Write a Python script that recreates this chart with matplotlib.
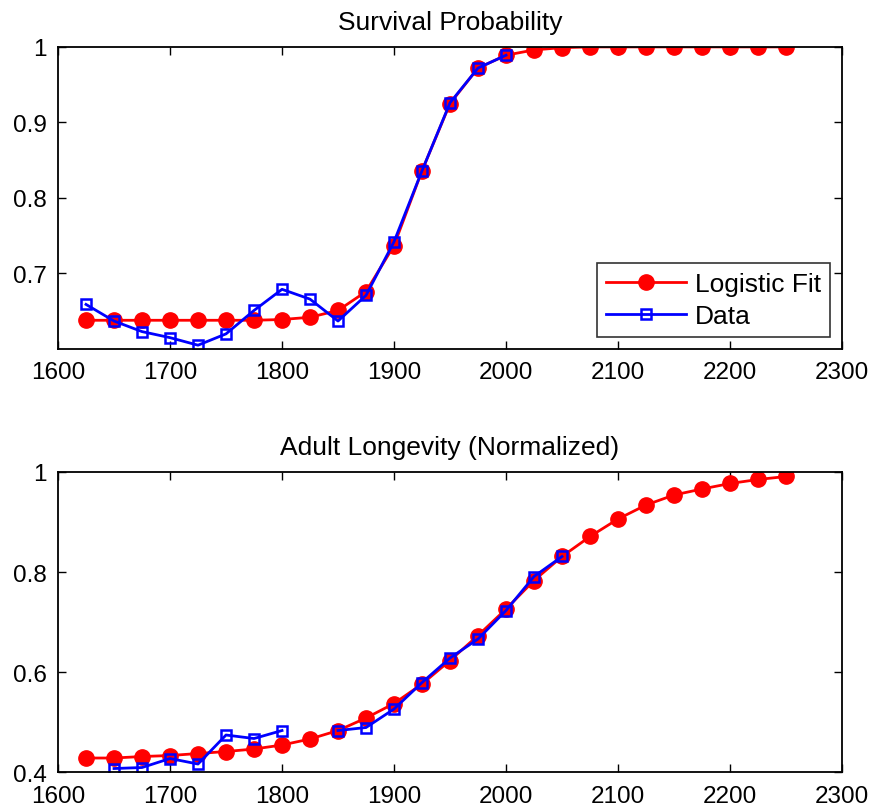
import matplotlib
matplotlib.use("Agg")
import matplotlib.pyplot as plt
import numpy as np

plt.rcParams['font.family'] = ['Liberation Sans', 'DejaVu Sans']

# lata (co 25)
years = list(range(1625, 2251, 25))
data_years_top = list(range(1625, 2001, 25))
data_years_bot = list(range(1650, 2051, 25))

# Survival Probability
surv_fit = [0.638, 0.638, 0.638, 0.638, 0.638, 0.638, 0.638, 0.639, 0.642, 0.651,
            0.676, 0.737, 0.836, 0.925, 0.972, 0.989, 0.996, 0.999, 1.0, 1.0,
            1.0, 1.0, 1.0, 1.0, 1.0, 1.0]
surv_data = [0.659, 0.637, 0.623, 0.615, 0.605, 0.620, 0.651, 0.679, 0.666, 0.637,
             0.671, 0.742, 0.836, 0.926, 0.972, 0.989]

# Adult Longevity (Normalized)
long_fit = [0.428, 0.428, 0.431, 0.433, 0.437, 0.441, 0.446, 0.454, 0.466, 0.483,
            0.508, 0.537, 0.576, 0.623, 0.673, 0.726, 0.783, 0.831, 0.871, 0.906,
            0.934, 0.954, 0.966, 0.977, 0.985, 0.991]
long_data = [0.407, 0.409, 0.427, 0.416, 0.474, 0.467, 0.483, np.nan, 0.483, 0.489,
             0.526, 0.579, 0.628, 0.666, 0.723, 0.791, 0.831]

fs = 17.5

fig = plt.figure(figsize=(8.75, 8.12), dpi=100)
ax1 = fig.add_axes([0.0663, 0.569, 0.896, 0.372])
ax2 = fig.add_axes([0.0663, 0.048, 0.896, 0.3695])

for ax in (ax1, ax2):
    ax.tick_params(direction='in', top=True, right=True, labelsize=fs, length=6, width=1)
    ax.tick_params(axis='x', pad=9)
    ax.tick_params(axis='y', pad=8)
    for s in ax.spines.values():
        s.set_linewidth(1.3)
    ax.set_xlim(1600, 2300)
    ax.set_xticks(range(1600, 2301, 100))

# wykres gorny
ax1.plot(years, surv_fit, '-o', color='red', lw=2, ms=11, label='Logistic Fit')
ax1.plot(data_years_top, surv_data, '-s', color='blue', lw=2, ms=7.5, mfc='none', mew=1.8, label='Data')
ax1.set_ylim(0.6, 1)
ax1.set_yticks([0.7, 0.8, 0.9, 1])
ax1.set_yticklabels(['0.7', '0.8', '0.9', '1'])
ax1.set_title('Survival Probability', fontsize=19, pad=13)
leg = ax1.legend(loc='lower right', fontsize=19, handlelength=3.0, fancybox=False,
                 edgecolor='black', borderaxespad=0.45, handletextpad=0.35, labelspacing=0.3,
                 borderpad=0.35)
leg.get_frame().set_linewidth(1.2)

# wykres dolny
ax2.plot(years, long_fit, '-o', color='red', lw=2, ms=11)
ax2.plot(data_years_bot, long_data, '-s', color='blue', lw=2, ms=7.5, mfc='none', mew=1.8)
ax2.set_ylim(0.4, 1)
ax2.set_yticks([0.4, 0.6, 0.8, 1])
ax2.set_yticklabels(['0.4', '0.6', '0.8', '1'])
ax2.set_title('Adult Longevity (Normalized)', fontsize=19, pad=13)

fig.savefig('out.png', dpi=100)
